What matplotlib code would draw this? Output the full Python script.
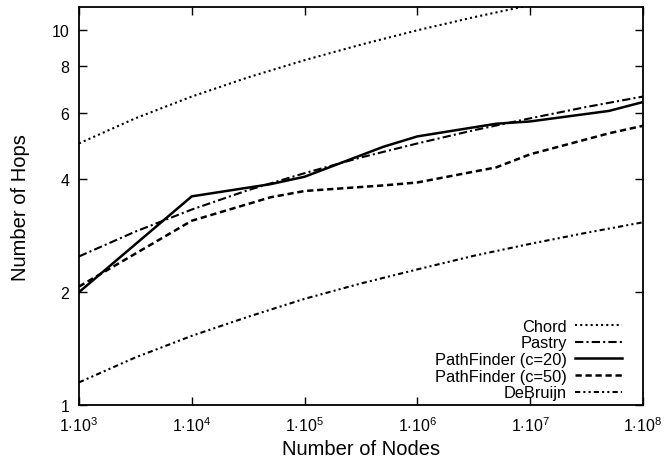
import matplotlib
matplotlib.use("Agg")
import matplotlib.pyplot as plt
from matplotlib.ticker import FixedLocator, NullLocator

plt.rcParams['font.family'] = ['Liberation Sans', 'DejaVu Sans']
plt.rcParams['mathtext.fontset'] = 'custom'
plt.rcParams['mathtext.rm'] = 'Liberation Sans'
plt.rcParams['mathtext.it'] = 'Liberation Sans:italic'

# half-decade grid for the smooth reference curves
nodes_fine = [1e3, 3.16e3, 1e4, 3.16e4, 1e5, 3.16e5, 1e6, 3.16e6, 1e7, 3.16e7, 1e8]
chord = [4.98, 5.81, 6.64, 7.47, 8.30, 9.13, 9.97, 10.80, 11.63, 12.46, 13.29]
pastry = [2.49, 2.90, 3.32, 3.74, 4.15, 4.57, 4.98, 5.40, 5.81, 6.23, 6.64]
debruijn = [1.15, 1.34, 1.53, 1.72, 1.92, 2.11, 2.30, 2.50, 2.69, 2.88, 3.07]

# simulated PathFinder runs
nodes_sim = [1e3, 1e4, 5e4, 1e5, 5e5, 1e6, 5e6, 1e7, 5e7, 1e8]
pf_c20 = [2.00, 3.60, 3.88, 4.06, 4.88, 5.20, 5.62, 5.70, 6.08, 6.42]
pf_c50 = [2.07, 3.10, 3.58, 3.72, 3.85, 3.92, 4.30, 4.66, 5.30, 5.55]

x_ticks = [1e3, 1e4, 1e5, 1e6, 1e7, 1e8]
x_labels = [r'$1{\cdot}10^{%d}$' % e for e in range(3, 9)]
y_ticks = [1, 2, 4, 6, 8, 10]

fig = plt.figure(figsize=(6.67, 4.6), dpi=100)
ax = fig.add_axes([0.1184, 0.117, 0.8456, 0.8656])

ax.plot(nodes_fine, chord, color='black', lw=1.5, ls=(0, (1, 1.5)), label='Chord')
ax.plot(nodes_fine, pastry, color='black', lw=1.5, ls=(0, (4, 1.5, 1, 1.5)), label='Pastry')
ax.plot(nodes_sim, pf_c20, color='black', lw=1.8, ls='-', label='PathFinder (c=20)')
ax.plot(nodes_sim, pf_c50, color='black', lw=1.8, ls=(0, (2.5, 1.5)), label='PathFinder (c=50)')
ax.plot(nodes_fine, debruijn, color='black', lw=1.5, ls=(0, (2.5, 1.5, 1, 1.5, 1, 1.5)), label='DeBruijn')

ax.set_xscale('log')
ax.set_yscale('log')
ax.set_xlim(1e3, 1e8)
ax.set_ylim(1, 11.5)

ax.xaxis.set_major_locator(FixedLocator(x_ticks))
ax.xaxis.set_minor_locator(NullLocator())
ax.set_xticklabels(x_labels)
ax.yaxis.set_major_locator(FixedLocator(y_ticks))
ax.yaxis.set_minor_locator(NullLocator())
ax.set_yticklabels([str(v) for v in y_ticks])

ax.tick_params(direction='in', length=6, width=1, top=True, right=True,
               labelsize=11.5, pad=7)
for s in ax.spines.values():
    s.set_linewidth(1.3)

ax.set_xlabel('Number of Nodes', fontsize=14.5)
ax.set_ylabel('Number of Hops', fontsize=14.5)
ax.xaxis.set_label_coords(0.5, -0.086)
ax.yaxis.set_label_coords(-0.087, 0.5)

leg = ax.legend(loc='lower right', bbox_to_anchor=(0.9628, 0.012),
                frameon=False, markerfirst=False, fontsize=11.8,
                handlelength=2.87, handletextpad=0.5, labelspacing=0.1,
                borderpad=0, borderaxespad=0)
for t in leg.get_texts():
    t.set_ha('right')
leg._legend_box.align = 'right'

fig.savefig('out.png', dpi=100)
